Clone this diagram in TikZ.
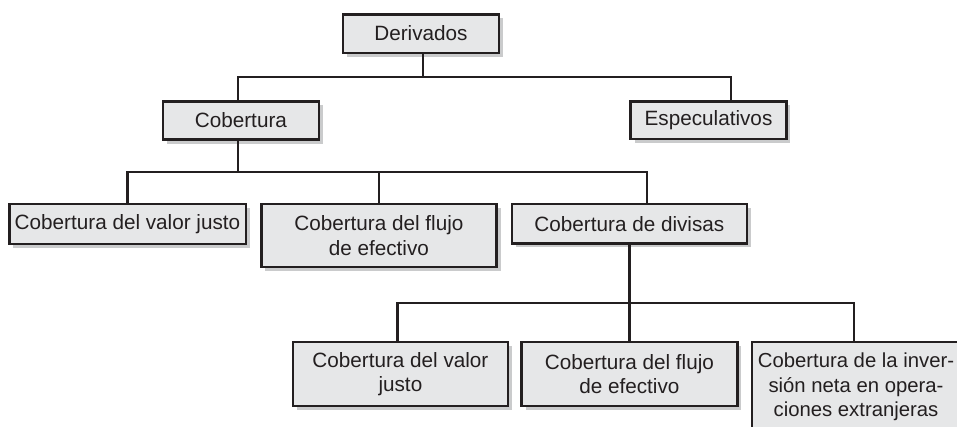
\documentclass[tikz,border=0pt]{standalone}
\usepackage{fontspec}
\setmainfont{Liberation Sans}
\usepackage{xcolor}
\usetikzlibrary{shadows, calc}

\definecolor{boxfill}{HTML}{E6E7E8}
\definecolor{boxline}{HTML}{231F20}
\definecolor{boxshade}{HTML}{CACBCC}

\begin{document}
\begin{tikzpicture}[x=1pt, y=-1pt,
                    every node/.style={font=\fontsize{20.7}{24.5}\selectfont, text=boxline},
                    box/.style={draw=boxline, line width=2.5pt, fill=boxfill, inner sep=0pt,
                                align=center,
                                drop shadow={shadow xshift=4pt, shadow yshift=-4pt,
                                             fill=boxshade, opacity=1}},
                    link/.style={draw=boxline, line width=2.2pt}]
  \useasboundingbox (0,0) rectangle (957,426);
  \clip (0,0) rectangle (957,426);
  % top level
  \node[box, minimum width=155.8, minimum height=38.5] (der) at (420.9,33.5) {Derivados};
  \node[box, minimum width=155.8, minimum height=38.2] (cob) at (240.9,120.4) {Cobertura};
  \node[box, minimum width=155.9, minimum height=37.5] (esp) at (708.5,120) {Especulativos};
  % second level
  \node[box, minimum width=236.5, minimum height=39.8] (cvj) at (127.5,223.9)
        {Cobertura del valor justo};
  \node[box, minimum width=235.2, minimum height=63.1] (cfe) at (378.9,235.5)
        {Cobertura del flujo\\de efectivo};
  \node[box, minimum width=234.8, minimum height=39.5] (cdd) at (629.4,223.6)
        {Cobertura de divisas};
  % third level
  \node[box, minimum width=214.8, minimum height=64.1] (dvj) at (400.4,374)
        {Cobertura del valor\\justo};
  \node[box, minimum width=215.8, minimum height=64.1] (dfe) at (629.4,374)
        {Cobertura del flujo\\de efectivo};
  \node[box, minimum width=208, minimum height=90, font=\fontsize{20.3}{24.5}\selectfont]
        (din) at (856,387)
        {Cobertura de la inver-\\sión neta en opera-\\ciones extranjeras};
  % bus lines
  \coordinate (bus1) at (422.7,76.7);
  \coordinate (bus2) at (238,172);
  \coordinate (bus3) at (629.4,302.7);
  \draw[link] (der.south -| bus1) -- (bus1);
  \draw[link] ([xshift=-2.9]cob.north) |- ([xshift=22.2]esp.north |- bus1)
        -- ([xshift=22.2]esp.north);
  \draw[link] ([xshift=-2.9]cob.south) -- (bus2);
  \draw[link] (cvj.north) |- ([xshift=17.6]cdd.north |- bus2) -- ([xshift=17.6]cdd.north);
  \draw[link] (cfe.north) -- (cfe.north |- bus2);
  \draw[link] (cdd.south) -- (dfe.north);
  \draw[link] ([xshift=-3]dvj.north) |- ([xshift=-1.7]din.north |- bus3)
        -- ([xshift=-1.7]din.north);
\end{tikzpicture}
\end{document}
